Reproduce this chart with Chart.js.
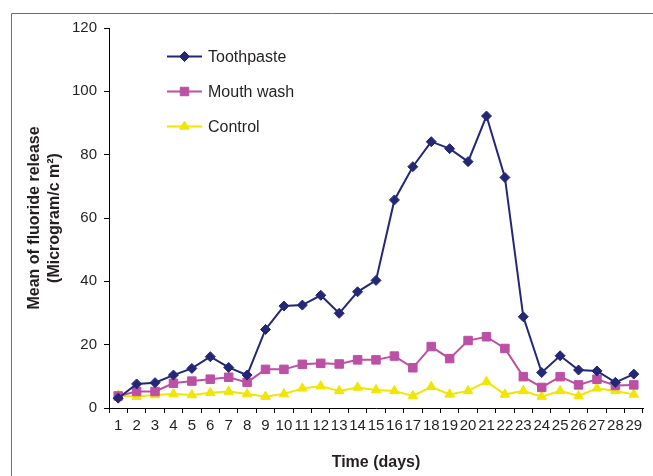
<!DOCTYPE html>
<html>
<head>
<meta charset="utf-8">
<script src="https://cdn.jsdelivr.net/npm/chart.js@4/dist/chart.umd.min.js"></script>
<style>
  html, body { margin: 0; padding: 0; background: #fff; }
  #wrap { width: 653px; height: 476px; position: relative; }
</style>
</head>
<body>
<div id="wrap"><canvas id="chart" width="653" height="476"></canvas></div>
<script>
// Days on the x axis
const days = ['1','2','3','4','5','6','7','8','9','10','11','12','13','14','15',
              '16','17','18','19','20','21','22','23','24','25','26','27','28','29'];

// Mean of fluoride release
const toothpaste = [3.1, 7.6, 8.0, 10.4, 12.5, 16.2, 12.8, 10.4, 24.8, 32.2, 32.5, 35.6, 29.9, 36.7, 40.3,
                    65.7, 76.2, 84.1, 81.9, 77.8, 92.2, 72.8, 28.8, 11.2, 16.5, 12.0, 11.7, 8.1, 10.7];
const mouthWash  = [3.8, 5.2, 5.2, 7.8, 8.5, 9.1, 9.7, 8.1, 12.2, 12.2, 13.8, 14.1, 13.9, 15.2, 15.2,
                    16.4, 12.7, 19.4, 15.6, 21.3, 22.5, 18.8, 9.9, 6.5, 9.9, 7.3, 9.1, 7.1, 7.3];
const control    = [3.9, 3.6, 4.1, 4.4, 4.1, 4.8, 5.2, 4.4, 3.6, 4.4, 6.2, 6.9, 5.4, 6.5, 5.7,
                    5.4, 3.8, 6.7, 4.3, 5.4, 8.3, 4.3, 5.4, 3.6, 5.4, 3.8, 6.2, 5.4, 4.3];

const yTicks = [0, 20, 40, 60, 80, 100, 120];

const FONT = "'Liberation Sans', Arial, sans-serif";
const TEXT = '#231f20';

// grey frame around the figure (top + left edges visible)
const framePlugin = {
  id: 'frame',
  beforeDraw(chart) {
    const ctx = chart.ctx;
    ctx.save();
    ctx.strokeStyle = '#6e6e6e';
    ctx.lineWidth = 1;
    ctx.beginPath();
    ctx.moveTo(11.5, chart.height);
    ctx.lineTo(11.5, 13.5);
    ctx.lineTo(chart.width, 13.5);
    ctx.stroke();
    ctx.restore();
  }
};

// legend inside the plot: short line + marker + label
const legendPlugin = {
  id: 'insideLegend',
  afterDraw(chart) {
    const ctx = chart.ctx;
    chart.data.datasets.forEach((ds, i) => {
      const y = 56.5 + i * 35;
      ctx.save();
      ctx.strokeStyle = ds.borderColor;
      ctx.lineWidth = ds.borderWidth;
      ctx.beginPath();
      ctx.moveTo(167, y);
      ctx.lineTo(202, y);
      ctx.stroke();
      ctx.fillStyle = ds.backgroundColor;
      ctx.strokeStyle = ds.borderColor;
      ctx.lineWidth = 1;
      Chart.helpers.drawPoint(ctx, {
        pointStyle: ds.pointStyle, radius: ds.pointRadius, rotation: 0, borderWidth: 1
      }, 184.5, y);
      ctx.fillStyle = TEXT;
      ctx.font = '16px ' + FONT;
      ctx.textBaseline = 'middle';
      ctx.fillText(ds.label, 208, y + 1);
      ctx.restore();
    });
  }
};

function series(label, data, color, style, radius) {
  return {
    label, data,
    borderColor: color,
    backgroundColor: color,
    borderWidth: 2,
    pointStyle: style,
    pointRadius: radius,
    pointHoverRadius: radius,
    pointBorderWidth: 1,
    tension: 0,
    fill: false,
  };
}

new Chart(document.getElementById('chart'), {
  type: 'line',
  data: {
    labels: days,
    datasets: [
      series('Toothpaste', toothpaste, '#232876', 'rectRot', 5),
      series('Mouth wash', mouthWash, '#bb50a5', 'rect', 6),
      series('Control', control, '#f0e600', 'triangle', 5.5),
    ]
  },
  options: {
    responsive: false,
    animation: false,
    layout: { padding: { left: 0, right: 10, top: 28, bottom: 0 } },
    plugins: { legend: { display: false }, tooltip: { enabled: false } },
    scales: {
      x: {
        type: 'category',
        offset: true,
        grid: { offset: true, drawOnChartArea: false, drawTicks: true, tickLength: 5, color: '#000', lineWidth: 1 },
        border: { color: '#000', width: 1 },
        ticks: { color: TEXT, font: { family: FONT, size: 15 }, padding: 4, autoSkip: false, maxRotation: 0 },
        title: { display: true, text: 'Time (days)', color: TEXT,
                 font: { family: FONT, size: 16, weight: 'bold' }, padding: { top: 0, bottom: 4 } },
        afterFit(scale) { scale.height = 68; }
      },
      y: {
        min: 0, max: 120,
        afterBuildTicks(scale) { scale.ticks = yTicks.map(v => ({ value: v })); },
        grid: { drawOnChartArea: false, drawTicks: true, tickLength: 5, color: '#000', lineWidth: 1 },
        border: { color: '#000', width: 1 },
        ticks: { color: TEXT, font: { family: FONT, size: 15 }, padding: 7 },
        title: { display: true, text: ['Mean of fluoride release', '(Microgram/c m²)'], color: TEXT,
                 font: { family: FONT, size: 16, weight: 'bold', lineHeight: 1.25 }, padding: { top: 25, bottom: 0 } },
        afterFit(scale) { scale.width = 109; }
      }
    }
  },
  plugins: [framePlugin, legendPlugin]
});
</script>
</body>
</html>
